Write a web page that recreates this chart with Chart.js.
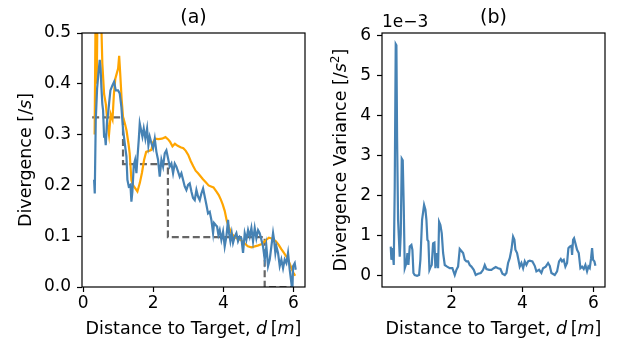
<!DOCTYPE html>
<html>
<head>
<meta charset="utf-8">
<script src="https://cdn.jsdelivr.net/npm/chart.js@4.4.1/dist/chart.umd.min.js"></script>
<style>
  html, body { margin: 0; padding: 0; background: #fff; }
  #wrap { position: relative; width: 624px; height: 343px; overflow: hidden; background: #fff; }
  canvas { position: absolute; top: 0; }
  #divChart { left: 0; }
  #varChart { left: 312px; }
</style>
</head>
<body>
<div id="wrap">
  <canvas id="divChart" width="312" height="343"></canvas>
  <canvas id="varChart" width="312" height="343"></canvas>
</div>
<script>
// ---- (a) divergence estimates vs distance to target [m] ----
const distBlue = [0.315,0.334,0.362,0.40,0.438,0.476,0.50,0.524,0.55,0.571,
  0.60,0.619,0.647,0.685,0.714,0.742,0.78,0.837,0.885,0.932,
  0.999,1.046,1.094,1.142,1.189,1.237,1.265,1.303,1.351,1.379,
  1.408,1.446,1.484,1.522,1.55,1.588,1.617,1.655,1.693,1.731,
  1.778,1.826,1.864,1.902,1.95,1.997,2.045,2.092,2.14,2.187,
  2.235,2.282,2.33,2.377,2.425,2.472,2.52,2.567,2.615,2.662,
  2.71,2.757,2.805,2.852,2.90,2.947,2.995,3.042,3.09,3.137,
  3.185,3.233,3.28,3.328,3.375,3.423,3.47,3.518,3.565,3.613,
  3.66,3.708,3.736,3.784,3.822,3.86,3.898,3.945,3.993,4.04,
  4.088,4.135,4.164,4.202,4.24,4.278,4.325,4.373,4.42,4.468,
  4.516,4.563,4.611,4.658,4.706,4.753,4.801,4.848,4.896,4.943,
  4.991,5.038,5.086,5.133,5.181,5.228,5.276,5.324,5.371,5.419,
  5.447,5.485,5.514,5.561,5.609,5.656,5.704,5.751,5.799,5.846,
  5.894,5.941,5.97,5.989,6.037,6.065];
const divBlue = [0.211,0.184,0.328,0.39,0.42,0.447,0.43,0.392,0.36,0.348,
  0.296,0.302,0.279,0.328,0.341,0.361,0.387,0.397,0.404,0.387,
  0.387,0.381,0.354,0.309,0.283,0.257,0.211,0.198,0.201,0.168,
  0.188,0.240,0.250,0.224,0.253,0.289,0.322,0.309,0.296,0.312,
  0.292,0.312,0.279,0.296,0.283,0.273,0.292,0.266,0.250,0.217,
  0.250,0.237,0.263,0.269,0.253,0.237,0.243,0.224,0.243,0.237,
  0.227,0.217,0.224,0.211,0.198,0.191,0.201,0.204,0.188,0.175,
  0.171,0.191,0.178,0.171,0.184,0.194,0.178,0.162,0.145,0.148,
  0.132,0.106,0.126,0.122,0.119,0.103,0.112,0.093,0.109,0.080,
  0.099,0.132,0.106,0.090,0.106,0.087,0.099,0.106,0.090,0.099,
  0.096,0.067,0.106,0.093,0.112,0.099,0.116,0.090,0.116,0.096,
  0.112,0.106,0.093,0.080,0.054,0.080,0.041,0.054,0.080,0.106,
  0.093,0.067,0.080,0.067,0.041,0.054,0.037,0.054,0.047,0.067,
  0.034,0.008,-0.01,0.041,0.047,0.034];

const distOrange = [0.33,0.36,0.39,0.42,0.47,0.52,0.55,0.60,0.65,0.70,
  0.74,0.79,0.84,0.88,0.92,0.96,1.00,1.03,1.06,1.10,
  1.14,1.20,1.24,1.30,1.33,1.38,1.43,1.48,1.55,1.62,
  1.68,1.74,1.80,1.88,1.95,2.00,2.06,2.15,2.25,2.35,
  2.42,2.48,2.55,2.62,2.70,2.78,2.86,2.93,3.00,3.07,
  3.14,3.21,3.28,3.35,3.42,3.50,3.58,3.65,3.72,3.80,
  3.87,3.93,3.98,4.04,4.10,4.16,4.23,4.30,4.38,4.46,
  4.55,4.62,4.70,4.80,4.90,5.00,5.08,5.15,5.23,5.30,
  5.36,5.42,5.50,5.58,5.65,5.72,5.78,5.84,5.90,5.95,
  6.00,6.05];
const divOrange = [0.30,0.56,0.40,0.60,0.62,0.52,0.44,0.38,0.36,0.32,
  0.30,0.34,0.33,0.38,0.41,0.42,0.43,0.455,0.42,0.37,
  0.335,0.32,0.308,0.28,0.263,0.21,0.20,0.195,0.188,0.205,
  0.225,0.25,0.266,0.268,0.27,0.285,0.292,0.291,0.292,0.295,
  0.291,0.286,0.277,0.282,0.278,0.275,0.273,0.268,0.26,0.248,
  0.238,0.229,0.224,0.218,0.212,0.206,0.20,0.198,0.196,0.188,
  0.181,0.172,0.163,0.15,0.13,0.118,0.106,0.10,0.096,0.094,
  0.09,0.085,0.08,0.078,0.08,0.082,0.084,0.088,0.093,0.097,
  0.096,0.094,0.09,0.083,0.075,0.068,0.062,0.055,0.045,0.036,
  0.028,0.022];

// piecewise-constant reference divergence (horizontal run, then drop)
const distStep = [0.26, 1.14, 2.42, 5.18, 5.98];
const divStep  = [0.334, 0.242, 0.098, 0.0, 0.0];

// ---- (b) divergence variance, in units of 1e-3 [/s^2] ----
const distVar = [0.277,0.296,0.324,0.362,0.390,0.418,0.437,0.456,0.484,0.531,
  0.560,0.588,0.616,0.644,0.673,0.720,0.748,0.776,0.814,0.861,
  0.889,0.918,0.955,1.021,1.078,1.115,1.162,1.219,1.257,1.285,
  1.313,1.341,1.370,1.407,1.435,1.473,1.511,1.539,1.577,1.614,
  1.643,1.680,1.718,1.756,1.803,1.869,1.944,2.019,2.085,2.132,
  2.179,2.226,2.273,2.321,2.368,2.415,2.462,2.509,2.556,2.622,
  2.678,2.744,2.820,2.886,2.933,2.980,3.055,3.121,3.187,3.243,
  3.309,3.375,3.432,3.498,3.545,3.592,3.639,3.686,3.733,3.771,
  3.799,3.846,3.884,3.921,3.968,4.016,4.063,4.110,4.157,4.204,
  4.279,4.345,4.392,4.467,4.533,4.580,4.656,4.722,4.769,4.816,
  4.910,4.976,5.032,5.080,5.117,5.164,5.211,5.258,5.296,5.334,
  5.381,5.400,5.428,5.456,5.494,5.541,5.588,5.635,5.682,5.729,
  5.776,5.823,5.861,5.899,5.937,5.965,5.993,6.031,6.059];
const varE3 = [0.73,0.40,0.69,0.27,2.23,5.79,5.76,3.47,1.40,0.48,
  1.06,2.93,2.89,1.73,0.19,0.32,0.57,0.27,0.73,0.77,
  0.65,0.07,0.02,0.0,0.02,0.40,1.40,1.77,1.65,1.40,
  0.90,0.86,0.15,0.23,0.27,0.81,0.83,0.19,0.57,0.19,
  1.35,1.27,1.06,0.57,0.27,0.23,0.19,0.19,0.02,0.15,
  0.23,0.67,0.62,0.57,0.40,0.36,0.36,0.27,0.23,0.15,
  0.02,0.05,0.07,0.15,0.27,0.17,0.15,0.15,0.19,0.22,
  0.19,0.17,0.05,0.02,0.07,0.32,0.44,0.65,0.98,0.90,
  0.65,0.57,0.40,0.23,0.32,0.19,0.36,0.27,0.36,0.38,
  0.36,0.25,0.11,0.15,0.07,0.19,0.23,0.32,0.25,0.07,
  0.02,0.11,0.36,0.42,0.36,0.40,0.23,0.32,0.69,0.73,
  0.75,0.52,0.90,0.94,0.81,0.65,0.57,0.19,0.23,0.17,
  0.27,0.11,0.23,0.19,0.44,0.69,0.40,0.36,0.25];

// tick positions
const xTicksA = [0, 2, 4, 6];
const yTicksA = [0.0, 0.1, 0.2, 0.3, 0.4, 0.5];
const xTicksB = [2, 4, 6];
const yTicksB = [0, 1, 2, 3, 4, 5, 6];

const FONT = 'DejaVu Sans';
const TICK_SIZE = 17;
const LABEL_SIZE = 17.5;
const TITLE_SIZE = 19;
Chart.defaults.font.family = FONT;
Chart.defaults.color = '#000';

const pts = (xs, ys) => xs.map((x, i) => ({ x, y: ys[i] }));

// rich text: segments of {t, it (italic), sup (superscript)}
function segFont(seg, size) {
  const s = seg.sup ? size * 0.7 : size;
  return (seg.it ? 'italic ' : '') + s + 'px "' + FONT + '"';
}
function drawRich(ctx, segs, cx, cy, size, angle) {
  ctx.save();
  ctx.translate(cx, cy);
  ctx.rotate(angle || 0);
  ctx.fillStyle = '#000';
  ctx.textBaseline = 'alphabetic';
  ctx.textAlign = 'left';
  let w = 0;
  segs.forEach(seg => { ctx.font = segFont(seg, size); w += ctx.measureText(seg.t).width; });
  let x = -w / 2;
  const base = size * 0.36;
  segs.forEach(seg => {
    ctx.font = segFont(seg, size);
    ctx.fillText(seg.t, x, seg.sup ? base - size * 0.42 : base);
    x += ctx.measureText(seg.t).width;
  });
  ctx.restore();
}

// axes frame, titles, axis labels and offset text
const decorations = {
  id: 'decorations',
  afterDraw(chart, args, o) {
    const ctx = chart.ctx, a = chart.chartArea;
    ctx.save();
    ctx.strokeStyle = '#000';
    ctx.lineWidth = 1.2;
    ctx.strokeRect(a.left, a.top, a.right - a.left, a.bottom - a.top);
    ctx.restore();
    const cx = (a.left + a.right) / 2, cy = (a.top + a.bottom) / 2;
    drawRich(ctx, [{ t: o.title }], cx, 16, TITLE_SIZE, 0);
    drawRich(ctx, o.xLabel, cx, 328, LABEL_SIZE, 0);
    drawRich(ctx, o.yLabel, a.left - o.yLabelGap, cy, LABEL_SIZE, -Math.PI / 2);
    if (o.offset) {
      ctx.save();
      ctx.font = TICK_SIZE + 'px "' + FONT + '"';
      ctx.fillStyle = '#000';
      ctx.textAlign = 'left';
      ctx.textBaseline = 'alphabetic';
      ctx.fillText(o.offset, a.left, a.top - 6);
      ctx.restore();
    }
  }
};

function linearAxis(min, max, ticks, fmt, isX, size) {
  return {
    type: 'linear',
    min, max,
    afterBuildTicks: s => { s.ticks = ticks.map(v => ({ value: v })); },
    afterFit: s => { if (isX) s.height = size; else s.width = size; },
    grid: { drawOnChartArea: false, drawTicks: true, tickLength: 5, tickColor: '#000', tickWidth: 1.2 },
    border: { display: false },
    ticks: {
      color: '#000', font: { family: FONT, size: TICK_SIZE }, padding: isX ? 1 : 6,
      maxRotation: 0, autoSkip: false, callback: v => fmt(v)
    }
  };
}

const xLabel = [
  { t: 'Distance to Target, ' }, { t: 'd', it: true }, { t: '\u2009[' },
  { t: 'm', it: true }, { t: ']' }
];

const baseOptions = {
  responsive: false,
  devicePixelRatio: 1,
  animation: false,
  events: [],
  elements: { point: { radius: 0 }, line: { tension: 0 } }
};
const hidden = { legend: { display: false }, tooltip: { enabled: false }, title: { display: false } };

new Chart(document.getElementById('divChart'), {
  type: 'scatter',
  data: {
    datasets: [
      { data: pts(distBlue, divBlue), showLine: true, borderColor: '#4682B4', borderWidth: 2.2, pointRadius: 0, clip: 0 },
      { data: pts(distOrange, divOrange), showLine: true, borderColor: '#FFA500', borderWidth: 2.2, pointRadius: 0, clip: 0 },
      { data: pts(distStep, divStep), showLine: true, stepped: 'before', borderColor: '#666666', borderWidth: 2.2,
        borderDash: [7, 3.5], pointRadius: 0, clip: 0 }
    ]
  },
  options: Object.assign({}, baseOptions, {
    layout: { padding: { left: 0, right: 7, top: 33, bottom: 0 } },
    scales: {
      x: linearAxis(-0.03, 6.33, xTicksA, v => String(v), true, 56),
      y: linearAxis(0, 0.5, yTicksA, v => v.toFixed(1), false, 82)
    },
    plugins: Object.assign({}, hidden, {
      decorations: {
        title: '(a)', xLabel, yLabelGap: 57,
        yLabel: [{ t: 'Divergence [/' }, { t: 's', it: true }, { t: ']' }]
      }
    })
  }),
  plugins: [decorations]
});

new Chart(document.getElementById('varChart'), {
  type: 'scatter',
  data: {
    datasets: [
      { data: pts(distVar, varE3), showLine: true, borderColor: '#4682B4', borderWidth: 2.2, pointRadius: 0, clip: 0 }
    ]
  },
  options: Object.assign({}, baseOptions, {
    layout: { padding: { left: 0, right: 19, top: 33, bottom: 0 } },
    scales: {
      x: linearAxis(0.03, 6.33, xTicksB, v => String(v), true, 56),
      y: linearAxis(-0.28, 6.07, yTicksB, v => String(v), false, 70)
    },
    plugins: Object.assign({}, hidden, {
      decorations: {
        title: '(b)', xLabel, yLabelGap: 42, offset: '1e\u22123',
        yLabel: [{ t: 'Divergence Variance [/' }, { t: 's', it: true }, { t: '2', sup: true }, { t: ']' }]
      }
    })
  }),
  plugins: [decorations]
});
</script>
</body>
</html>
